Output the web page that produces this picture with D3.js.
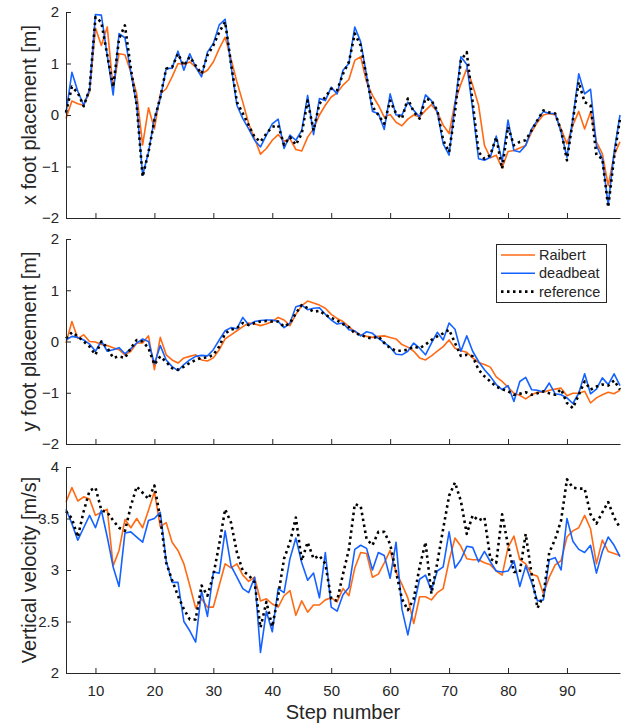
<!DOCTYPE html>
<html>
<head>
<meta charset="utf-8">
<script src="https://cdn.jsdelivr.net/npm/d3@7"></script>
<style>
  body { margin: 0; background: #fff; }
  text { font-family: "Liberation Sans", Arial, Helvetica, sans-serif; fill: #262626; }
</style>
</head>
<body>
<script>
// step numbers on the x axis
const steps = [5,6,7,8,9,10,11,12,13,14,15,16,17,18,19,20,21,22,23,24,25,26,27,28,29,30,
  31,32,33,34,35,36,37,38,39,40,41,42,43,44,45,46,47,48,49,50,51,52,53,54,55,56,57,58,59,60,
  61,62,63,64,65,66,67,68,69,70,71,72,73,74,75,76,77,78,79,80,81,82,83,84,85,86,87,88,89,90,
  91,92,93,94,95,96,97,98,99];
const xTicks = [10,20,30,40,50,60,70,80,90];
const seriesNames = ["Raibert", "deadbeat", "reference"];

// x foot placement [m]
const xRaibert = [-0.07,0.27,0.22,0.19,0.45,1.69,1.35,1.71,0.51,1.19,
  1.17,0.83,0.41,-0.58,0.14,-0.27,0.41,0.51,0.74,1.0,
  0.98,1.03,0.93,0.8,0.87,1.03,1.29,1.51,1.09,0.64,
  0.25,-0.17,-0.46,-0.76,-0.65,-0.49,-0.38,-0.51,-0.46,-0.67,
  -0.7,-0.43,-0.27,0,0.19,0.35,0.43,0.58,0.69,1.06,
  1.13,0.64,0.38,0.19,-0.04,0.01,-0.14,-0.21,-0.08,0,
  -0.04,0.09,0.2,0.06,-0.2,-0.36,0.25,0.6,0.9,0.58,
  0.19,-0.59,-0.83,-0.78,-1.03,-0.71,-0.69,-0.64,-0.59,-0.33,
  -0.14,0,0.03,0,-0.27,-0.56,-0.2,0.07,-0.27,0.06,
  -0.52,-0.75,-1.37,-0.78,-0.52];
const xDeadbeat = [0.03,0.83,0.46,0.19,0.5,1.95,1.94,1.16,0.39,1.58,
  1.5,0.83,0.19,-1.17,-0.72,-0.07,0.32,0.9,0.91,1.24,
  0.87,1.19,0.93,0.74,1.22,1.39,1.75,1.86,0.96,0.19,
  -0.07,-0.27,-0.49,-0.62,-0.39,-0.17,-0.08,-0.65,-0.39,-0.49,
  -0.3,0.38,-0.38,0.32,0.28,0.54,0.41,0.87,1.0,1.71,
  1.42,0.77,0.07,0.03,-0.28,0.41,0,0,0.25,0.09,
  -0.04,0.39,0.28,0.06,-0.56,-0.78,0.19,1.13,0.98,0.12,
  -0.85,-0.88,-0.82,-0.41,-0.91,-0.1,-0.69,-0.72,-0.59,-0.27,
  -0.1,0.07,0.03,0.03,-0.33,-0.82,-0.07,0.8,0.41,0.5,
  -0.59,-0.85,-1.75,-0.72,0];
const xReference = [0.05,0.55,0.43,0.17,0.5,1.9,1.8,1.16,0.54,1.48,
  1.74,0.9,0.19,-1.2,-0.72,-0.1,0.35,0.9,0.93,1.19,
  0.96,1.13,0.96,0.8,1.16,1.35,1.61,1.81,1.0,0.25,
  0.03,-0.2,-0.43,-0.52,-0.36,-0.23,-0.2,-0.58,-0.43,-0.58,
  -0.36,0.28,-0.3,0.22,0.35,0.51,0.48,0.8,1.03,1.58,
  1.35,0.74,0.16,0,-0.17,0.28,0.03,-0.07,0.32,0.06,
  -0.07,0.32,0.28,0.09,-0.49,-0.72,0.06,1.06,1.22,0.25,
  -0.72,-0.85,-0.78,-0.43,-1.04,-0.23,-0.59,-0.52,-0.49,-0.3,
  -0.1,0.09,0.05,0.03,-0.3,-0.88,-0.1,0.64,0.25,0.19,
  -0.78,-0.85,-1.79,-0.82,-0.07];

// y foot placement [m]
const yRaibert = [-0.03,0.39,0.06,0.13,0,-0.01,-0.06,-0.08,-0.12,-0.16,
  -0.26,-0.19,-0.03,-0.03,0.11,-0.55,0.08,-0.26,-0.36,-0.42,
  -0.32,-0.29,-0.26,-0.36,-0.38,-0.32,-0.16,0.05,0.13,0.21,
  0.29,0.36,0.34,0.31,0.34,0.39,0.47,0.42,0.31,0.53,
  0.7,0.79,0.75,0.71,0.65,0.53,0.45,0.39,0.29,0.19,
  0.13,0.1,0.08,0.1,0.11,0.08,0.05,-0.06,-0.11,-0.19,
  -0.32,-0.36,-0.28,-0.19,-0.1,0.03,-0.13,-0.18,-0.21,-0.32,
  -0.41,-0.45,-0.5,-0.69,-0.78,-0.89,-1.01,-1.05,-1.12,-1.04,
  -0.99,-0.99,-0.95,-0.93,-0.91,-1.06,-1.01,-1.01,-0.97,-1.2,
  -1.1,-1.04,-0.99,-1.02,-0.95];
const yDeadbeat = [0.03,0.1,0.08,0.03,-0.05,-0.19,0.01,-0.19,-0.16,-0.12,
  -0.24,-0.14,-0.03,0.05,0,-0.44,-0.08,-0.36,-0.49,-0.57,
  -0.45,-0.36,-0.29,-0.27,-0.28,-0.16,0.03,0.21,0.27,0.25,
  0.47,0.32,0.39,0.41,0.42,0.42,0.39,0.27,0.36,0.68,
  0.71,0.62,0.65,0.66,0.53,0.42,0.34,0.36,0.23,0.21,
  0.11,0.19,0.16,0.06,-0.02,-0.11,-0.25,-0.26,-0.19,-0.03,
  -0.13,-0.26,-0.03,0.18,0.03,0.36,0.24,-0.19,0.11,-0.19,
  -0.39,-0.55,-0.68,-0.84,-0.94,-0.86,-1.17,-0.78,-0.7,-0.94,
  -0.95,-0.99,-0.81,-1.02,-1.04,-1.1,-1.21,-1.01,-0.63,-1.02,
  -0.93,-0.71,-0.84,-0.63,-0.86];
const yReference = [0.06,0.18,0.1,0,-0.1,-0.26,0,-0.12,-0.32,-0.29,
  -0.32,-0.13,0.03,0,-0.13,-0.45,-0.29,-0.4,-0.52,-0.55,
  -0.49,-0.42,-0.36,-0.32,-0.31,-0.26,-0.1,0.16,0.23,0.26,
  0.36,0.32,0.36,0.39,0.4,0.39,0.39,0.29,0.36,0.55,
  0.71,0.65,0.58,0.6,0.52,0.46,0.41,0.34,0.28,0.16,
  0.13,0.08,0.06,0.1,-0.03,-0.13,-0.18,-0.18,-0.16,-0.1,
  -0.13,-0.06,0.03,0.1,0.16,0.23,-0.03,-0.28,-0.26,-0.29,
  -0.55,-0.68,-0.78,-0.88,-0.93,-0.97,-1.04,-1.02,-0.99,-1.04,
  -1.01,-0.97,-1.01,-1.04,-0.93,-1.2,-1.3,-1.04,-0.78,-0.94,
  -0.88,-0.84,-0.86,-0.76,-0.94];

// vertical velocity [m/s]
const vRaibert = [3.66,3.8,3.67,3.71,3.69,3.53,3.56,3.59,3.04,3.19,
  3.49,3.41,3.5,3.41,3.58,3.76,3.42,3.46,3.27,3.19,
  3.06,2.85,2.63,2.72,2.64,2.64,2.85,3.06,3.02,3.06,
  2.95,2.89,2.93,2.7,2.72,2.67,2.64,2.75,2.8,2.56,
  2.7,2.59,2.66,2.66,2.71,2.73,2.69,2.82,2.75,3.02,
  3.17,3.16,2.93,2.96,3.07,3.19,2.98,2.86,2.73,2.48,
  2.74,2.74,2.71,2.78,2.82,3.09,3.31,3.23,3.11,3.1,
  3.1,3.07,3.05,2.99,2.95,3.22,3.33,3.1,3.06,2.96,
  2.94,2.77,2.93,3.05,3.09,3.32,3.38,3.41,3.53,3.4,
  3.06,3.29,3.18,3.16,3.14];
const vDeadbeat = [3.59,3.45,3.29,3.41,3.53,3.41,3.58,3.32,3.03,2.84,
  3.36,3.37,3.32,3.27,3.48,3.5,3.56,3.09,2.88,2.88,
  2.5,2.41,2.3,2.8,2.55,2.98,2.97,3.38,3.04,2.93,
  2.82,2.78,2.93,2.2,2.6,2.4,2.82,2.78,3.11,3.31,
  3.07,2.9,2.97,2.73,3.17,2.64,2.6,2.76,2.83,3.2,
  3.24,3.21,3.0,3.17,3.14,2.92,3.27,2.62,2.37,2.65,
  2.91,2.95,2.8,2.99,3.03,3.37,3.02,3.1,3.23,3.22,
  3.08,3.18,3.08,2.99,2.98,2.99,3.09,2.84,3.04,2.88,
  2.7,2.71,3.1,3.12,3.0,3.5,3.28,3.2,3.17,3.24,
  2.97,3.18,3.32,3.24,3.13];
const vReference = [3.57,3.5,3.32,3.57,3.77,3.8,3.58,3.56,3.48,3.41,
  3.38,3.62,3.81,3.75,3.69,3.82,3.5,3.07,2.9,2.75,
  2.62,2.52,2.52,2.85,2.75,2.95,3.25,3.59,3.46,3.17,
  2.99,2.95,2.88,2.44,2.69,2.45,2.75,3.11,3.27,3.51,
  3.09,3.27,3.11,3.14,3.06,2.72,2.7,2.96,3.2,3.64,
  3.62,3.3,3.24,3.37,3.37,3.25,2.98,2.72,2.61,2.72,
  3.03,3.27,2.77,3.07,3.4,3.72,3.85,3.67,3.35,3.53,
  3.48,3.51,3.11,3.07,3.54,3.24,2.98,2.98,3.35,2.96,
  2.63,2.75,3.17,3.3,3.48,3.88,3.8,3.79,3.79,3.54,
  3.45,3.56,3.66,3.51,3.41];

const colors = ["#ff6a13", "#1462ff", "#000000"];
const axisColor = "#262626";

const svg = d3.select("body").append("svg")
  .attr("width", 624)
  .attr("height", 724);

const x = d3.scaleLinear().domain([5, 99]).range([66, 620]);

const panels = [
  {top: 12, bottom: 218, domain: [-2, 2], ticks: [-2, -1, 0, 1, 2],
   label: "x foot placement [m]", series: [xRaibert, xDeadbeat, xReference]},
  {top: 239, bottom: 444, domain: [-2, 2], ticks: [-2, -1, 0, 1, 2],
   label: "y foot placement [m]", series: [yRaibert, yDeadbeat, yReference]},
  {top: 467, bottom: 673, domain: [2, 4], ticks: [2, 2.5, 3, 3.5, 4],
   label: "Vertical velocity [m/s]", series: [vRaibert, vDeadbeat, vReference]}
];

panels.forEach(function (p, i) {
  const y = d3.scaleLinear().domain(p.domain).range([p.bottom, p.top]);
  const g = svg.append("g");

  // lines
  const line = d3.line()
    .x(function (d, j) { return x(steps[j]); })
    .y(function (d) { return y(d); });

  p.series.forEach(function (s, k) {
    const path = g.append("path")
      .datum(s)
      .attr("fill", "none")
      .attr("stroke", colors[k])
      .attr("stroke-linejoin", "round")
      .attr("d", line);
    if (k === 2) {
      path.attr("stroke-width", 2.6).attr("stroke-dasharray", "2.5,3.5");
    } else {
      path.attr("stroke-width", 1.6);
    }
  });

  // axes
  const xAxis = d3.axisBottom(x)
    .tickValues(xTicks)
    .tickSizeInner(-5)
    .tickSizeOuter(0)
    .tickPadding(12);
  if (i < 2) xAxis.tickFormat("");

  g.append("g")
    .attr("transform", `translate(0,${p.bottom})`)
    .style("color", axisColor)
    .call(xAxis)
    .call(function (a) {
      a.attr("font-size", 15).attr("font-family", null);
    });

  g.append("g")
    .attr("transform", `translate(${x.range()[0]},0)`)
    .style("color", axisColor)
    .call(d3.axisLeft(y)
      .tickValues(p.ticks)
      .tickFormat(d3.format("~g"))
      .tickSizeInner(-5)
      .tickSizeOuter(0)
      .tickPadding(7))
    .call(function (a) {
      a.attr("font-size", 15).attr("font-family", null);
    });

  g.append("text")
    .attr("transform", `translate(36,${(p.top + p.bottom) / 2}) rotate(-90)`)
    .attr("text-anchor", "middle")
    .attr("font-size", 20)
    .text(p.label);
});

svg.append("text")
  .attr("x", (x.range()[0] + x.range()[1]) / 2)
  .attr("y", 719)
  .attr("text-anchor", "middle")
  .attr("font-size", 20)
  .text("Step number");

// legend in the middle panel
const legend = svg.append("g").attr("transform", "translate(496,244)");
legend.append("rect")
  .attr("x", 0.5).attr("y", 0.5)
  .attr("width", 110).attr("height", 58)
  .attr("fill", "#fff")
  .attr("stroke", axisColor)
  .attr("stroke-width", 1);

seriesNames.forEach(function (name, k) {
  const ly = 11 + k * 18.3;
  const l = legend.append("line")
    .attr("x1", 5).attr("x2", 39)
    .attr("y1", ly).attr("y2", ly)
    .attr("stroke", colors[k]);
  if (k === 2) l.attr("stroke-width", 2.6).attr("stroke-dasharray", "2.5,3.5");
  else l.attr("stroke-width", 1.6);
  legend.append("text")
    .attr("x", 43).attr("y", ly)
    .attr("dy", "0.35em")
    .attr("font-size", 14.5)
    .text(name);
});
</script>
</body>
</html>
